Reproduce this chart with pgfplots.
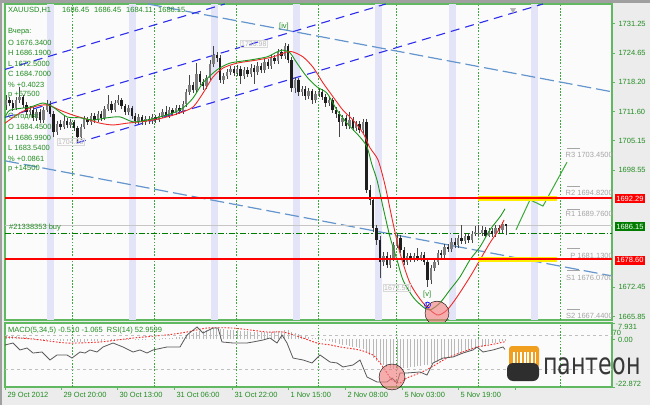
\documentclass[border=0pt]{standalone}
\usepackage{fontspec}
\setmainfont{Liberation Sans}
\newfontfamily\logofont{DejaVu Sans}
\usepackage{pgfplots}
\pgfplotsset{compat=1.18}
\usepackage{pgfplotstable}
\definecolor{frameg}{RGB}{96,184,96}
\definecolor{txtg}{RGB}{34,140,34}
\definecolor{dkgreen}{RGB}{0,125,0}
\definecolor{dayg}{RGB}{60,170,60}
\definecolor{band}{RGB}{228,228,248}
\definecolor{chanblue}{RGB}{45,45,235}
\definecolor{ltblue}{RGB}{100,150,205}
\definecolor{maGreen}{RGB}{30,150,30}
\definecolor{maRed}{RGB}{240,40,40}
\definecolor{fcGreen}{RGB}{60,170,60}
\definecolor{pivgray}{RGB}{165,165,165}
\definecolor{pagebg}{RGB}{236,236,236}
\definecolor{chartbg}{RGB}{251,251,251}
\definecolor{edgegray}{RGB}{160,160,160}
\definecolor{wickc}{RGB}{70,70,70}
\definecolor{bearc}{RGB}{30,30,30}
\definecolor{bullc}{RGB}{125,125,125}
\definecolor{pinkc}{RGB}{240,120,120}
\definecolor{logoorange}{RGB}{240,160,30}
\newcommand{\sm}{\fontsize{7.5}{9}\selectfont}
\newcommand{\smt}{\fontsize{7}{8.4}\selectfont}

\pgfplotstableread{
x o h l c
6 1713.1 1715.3 1711.9 1714.2
9.4 1714.2 1714.9 1712.8 1713.5
12.8 1713.5 1714.2 1711.7 1712.4
16.2 1712.4 1714.9 1711.9 1714.2
19.6 1714.2 1717.1 1713.5 1714.9
23 1714.9 1715.3 1712.4 1713.1
26.4 1713.1 1713.7 1710.8 1711.5
29.8 1711.5 1712.8 1710.8 1711.9
33.2 1711.9 1712.6 1709.5 1710.2
36.6 1710.2 1712.2 1709.5 1711.5
40 1711.5 1712.2 1709.0 1709.7
43.4 1709.7 1712.6 1709.0 1711.9
46.8 1711.9 1714.2 1711.5 1713.3
50.2 1713.3 1714.0 1710.4 1711.1
53.6 1711.1 1711.7 1705.9 1707.0
57 1707.0 1709.5 1706.4 1708.8
60.4 1708.8 1709.7 1707.5 1708.2
63.8 1708.2 1710.6 1707.7 1709.5
67.2 1709.5 1710.2 1707.9 1708.6
70.6 1708.6 1709.9 1707.9 1709.3
74 1709.3 1709.7 1707.3 1707.9
77.4 1707.9 1708.4 1704.8 1705.9
80.8 1705.9 1708.8 1705.3 1708.2
84.2 1708.2 1710.6 1707.7 1709.9
87.6 1709.9 1710.4 1708.6 1709.3
91 1709.3 1711.3 1708.6 1710.6
94.4 1710.6 1711.3 1709.0 1709.7
97.8 1709.7 1711.7 1709.3 1711.1
101.2 1711.1 1711.7 1709.5 1710.2
104.6 1710.2 1712.8 1709.7 1712.2
108 1712.2 1715.3 1711.7 1713.3
111.4 1713.3 1714.0 1711.3 1711.9
114.8 1711.9 1714.2 1711.5 1713.5
118.2 1713.5 1715.3 1713.1 1714.2
121.6 1714.2 1714.6 1712.2 1712.8
125 1712.8 1713.3 1710.8 1711.5
128.4 1711.5 1713.1 1710.8 1712.4
131.8 1712.4 1712.8 1709.9 1710.6
135.2 1710.6 1711.3 1708.8 1709.5
138.6 1709.5 1711.1 1708.8 1710.4
142 1710.4 1710.8 1708.6 1709.3
145.4 1709.3 1710.6 1708.6 1709.9
148.8 1709.9 1710.6 1708.8 1709.5
152.2 1709.5 1711.1 1708.8 1710.4
155.6 1710.4 1710.8 1709.0 1709.7
159 1709.7 1711.3 1709.3 1710.6
162.4 1710.6 1712.2 1710.2 1711.5
165.8 1711.5 1712.8 1710.4 1710.8
169.2 1710.8 1712.6 1710.2 1711.9
172.6 1711.9 1712.4 1710.6 1711.3
176 1711.3 1713.1 1710.8 1712.4
179.4 1712.4 1713.1 1711.1 1711.7
182.8 1711.7 1714.0 1711.1 1713.3
186.2 1713.3 1716.6 1712.6 1716.0
189.6 1716.0 1719.8 1715.3 1717.5
193 1717.5 1718.2 1715.7 1716.4
196.4 1716.4 1722.4 1715.7 1720.0
199.8 1720.0 1720.7 1717.5 1718.2
203.2 1718.2 1718.9 1716.4 1717.3
206.6 1717.3 1719.8 1716.6 1719.1
210 1719.1 1723.1 1718.6 1722.2
213.4 1722.2 1726.2 1721.5 1724.2
216.8 1724.2 1724.9 1722.7 1723.6
220.2 1723.6 1724.2 1718.0 1718.6
223.6 1718.6 1720.2 1717.8 1719.5
227 1719.5 1721.1 1718.9 1720.4
230.4 1720.4 1721.8 1719.8 1721.1
233.8 1721.1 1721.8 1719.5 1720.2
237.2 1720.2 1722.0 1719.5 1721.1
240.6 1721.1 1721.8 1717.8 1719.5
244 1719.5 1721.5 1718.9 1720.9
247.4 1720.9 1721.5 1719.3 1720.0
250.8 1720.0 1722.2 1719.3 1721.3
254.2 1721.3 1722.0 1717.8 1720.4
257.6 1720.4 1722.7 1719.8 1721.8
261 1721.8 1722.4 1720.2 1720.9
264.4 1720.9 1723.3 1720.2 1722.7
267.8 1722.7 1723.3 1721.1 1721.8
271.2 1721.8 1724.2 1721.1 1723.6
274.6 1723.6 1724.2 1722.2 1722.9
278 1722.9 1725.6 1722.2 1724.9
281.4 1724.9 1725.6 1723.3 1724.0
284.8 1724.0 1726.98 1723.3 1726.2
288.2 1726.2 1726.7 1722.4 1723.1
291.6 1723.1 1723.8 1716.0 1716.9
295 1716.9 1719.3 1715.7 1718.6
298.4 1718.6 1719.1 1715.1 1716.0
301.8 1716.0 1717.3 1715.1 1716.6
305.2 1716.6 1717.3 1714.2 1715.1
308.6 1715.1 1716.9 1714.4 1716.2
312 1716.2 1716.6 1713.3 1714.2
315.4 1714.2 1716.2 1713.5 1715.5
318.8 1715.5 1716.6 1714.9 1716.0
322.2 1716.0 1716.6 1714.2 1714.9
325.6 1714.9 1715.5 1712.6 1713.5
329 1713.5 1714.9 1712.8 1714.2
332.4 1714.2 1714.6 1711.3 1711.9
335.8 1711.9 1712.6 1710.2 1711.1
339.2 1711.1 1711.7 1705.9 1709.3
342.6 1709.3 1710.8 1708.4 1710.2
346 1710.2 1710.8 1707.7 1708.4
349.4 1708.4 1711.5 1707.7 1709.7
352.8 1709.7 1710.4 1707.3 1707.9
356.2 1707.9 1709.5 1707.3 1708.8
359.6 1708.8 1709.5 1706.8 1707.5
363 1707.5 1709.9 1706.8 1709.3
366.4 1709.3 1709.9 1693.4 1694.1
369.8 1694.1 1695.2 1690.7 1691.9
373.2 1691.9 1692.5 1684.7 1685.6
376.6 1685.6 1686.3 1681.8 1682.9
380 1682.9 1683.8 1674.4 1678.0
383.4 1678.0 1680.3 1677.1 1679.4
386.8 1679.4 1680.3 1676.7 1677.4
390.2 1677.4 1679.6 1676.7 1678.9
393.6 1678.9 1682.5 1678.2 1681.8
397 1681.8 1684.5 1681.1 1683.4
400.4 1683.4 1684.0 1680.0 1680.7
403.8 1680.7 1681.4 1677.4 1678.0
407.2 1678.0 1680.0 1677.4 1679.4
410.6 1679.4 1680.0 1678.0 1678.7
414 1678.7 1680.0 1678.0 1679.4
417.4 1679.4 1681.1 1678.2 1678.9
420.8 1678.9 1680.3 1678.2 1679.6
424.2 1679.6 1680.3 1677.4 1678.0
427.6 1678.0 1678.9 1672.5 1674.0
431 1674.0 1677.4 1673.1 1676.7
434.4 1676.7 1678.9 1676.0 1678.0
437.8 1678.0 1680.7 1677.4 1680.0
441.2 1680.0 1680.7 1678.9 1679.6
444.6 1679.6 1682.0 1678.9 1681.4
448 1681.4 1682.0 1680.3 1680.9
451.4 1680.9 1683.4 1680.3 1682.5
454.8 1682.5 1683.4 1681.1 1681.8
458.2 1681.8 1684.0 1681.1 1683.4
461.6 1683.4 1686.19 1682.0 1682.7
465 1682.7 1684.5 1682.0 1683.8
468.4 1683.8 1684.5 1682.3 1682.9
471.8 1682.9 1684.9 1682.3 1684.3
475.2 1684.3 1686.1 1683.8 1684.7
478.6 1684.45 1686.3 1683.8 1684.5
482 1684.5 1686.1 1683.8 1685.2
485.4 1685.2 1685.8 1683.6 1683.8
488.8 1683.8 1685.6 1683.54 1684.9
492.2 1684.9 1685.6 1683.6 1684.3
495.6 1684.3 1686.3 1683.6 1685.6
499 1685.6 1686.3 1684.5 1685.2
502.4 1685.2 1686.99 1684.5 1686.45
505.8 1686.45 1686.45 1684.11 1686.15
}\candles

\pgfplotstableread{
x v
6 1.5
9.4 1.7
12.8 1.8
16.2 1.6
19.6 1.4
23 1.2
26.4 1.0
29.8 0.8
33.2 0.6
36.6 0.4
40 0.3
43.4 0.2
46.8 0.3
50.2 0.2
53.6 -0.2
57 -0.4
60.4 -0.6
63.8 -0.7
67.2 -0.8
70.6 -0.9
74 -1.0
77.4 -1.3
80.8 -1.2
84.2 -1.0
87.6 -0.9
91 -0.8
94.4 -0.7
97.8 -0.6
101.2 -0.5
104.6 -0.3
108 0.0
111.4 0.1
114.8 0.2
118.2 0.4
121.6 0.3
125 0.2
128.4 0.1
131.8 0.0
135.2 -0.1
138.6 -0.2
142 -0.2
145.4 -0.1
148.8 0.0
152.2 0.1
155.6 0.2
159 0.3
162.4 0.5
165.8 0.6
169.2 0.8
172.6 0.9
176 1.0
179.4 1.1
182.8 1.3
186.2 1.8
189.6 2.5
193 3.0
196.4 3.6
199.8 3.9
203.2 4.1
206.6 4.4
210 4.9
213.4 5.4
216.8 5.6
220.2 5.2
223.6 5.0
227 4.8
230.4 4.6
233.8 4.5
237.2 4.4
240.6 4.1
244 4.0
247.4 3.9
250.8 3.8
254.2 3.7
257.6 3.7
261 3.6
264.4 3.7
267.8 3.7
271.2 3.8
274.6 3.9
278 4.1
281.4 4.2
284.8 4.4
288.2 4.5
291.6 3.8
295 3.3
298.4 2.8
301.8 2.3
305.2 1.8
308.6 1.4
312 0.9
315.4 0.5
318.8 0.1
322.2 -0.2
325.6 -0.5
329 -0.9
332.4 -1.3
335.8 -1.7
339.2 -2.1
342.6 -2.5
346 -2.8
349.4 -3.1
352.8 -3.4
356.2 -3.8
359.6 -4.1
363 -4.4
366.4 -6.0
369.8 -7.5
373.2 -9.0
376.6 -10.4
380 -11.6
383.4 -12.4
386.8 -13.2
390.2 -13.8
393.6 -14.1
397 -14.2
400.4 -14.1
403.8 -13.9
407.2 -13.6
410.6 -13.4
414 -13.2
417.4 -13.0
420.8 -12.7
424.2 -12.4
427.6 -12.2
431 -11.8
434.4 -11.3
437.8 -10.7
441.2 -10.1
444.6 -9.5
448 -8.9
451.4 -8.3
454.8 -7.7
458.2 -7.1
461.6 -6.6
465 -6.1
468.4 -5.6
471.8 -5.1
475.2 -4.6
478.6 -3.9
482 -3.5
485.4 -3.0
488.8 -2.4
492.2 -1.9
495.6 -1.5
499 -1.1
502.4 -0.8
505.8 -0.51
}\macd

\begin{document}
\begin{tikzpicture}
\useasboundingbox (0,0) rectangle (650pt,405pt);
\fill[pagebg] (0,0) rectangle (650pt,405pt);
\fill[edgegray] (0,402pt) rectangle (650pt,405pt);
\fill[edgegray] (0,0) rectangle (2pt,405pt);

% ================= MAIN PRICE PANEL =================
\begin{axis}[at={(5pt,85pt)}, anchor=south west, scale only axis,
  width=607pt, height=316pt,
  xmin=5, xmax=612, ymin=1665.07, ymax=1735.6,
  axis background/.style={fill=chartbg},
  axis line style={frameg, line width=1.3pt},
  xtick=\empty,
  ytick={1665.85,1672.45,1698.55,1705.15,1711.60,1718.20,1724.65,1731.25},
  yticklabels={1665.85,1672.45,1698.55,1705.15,1711.60,1718.20,1724.65,1731.25},
  ytick pos=right, yticklabel pos=right,
  tick align=outside, major tick length=3pt,
  tick style={frameg, line width=0.8pt},
  yticklabel style={font=\sm, text=txtg},
  clip=false]
 % session bands
 \pgfplotsinvokeforeach{50,132,214,296,378,452,534}{
   \addplot[band, line width=7pt, forget plot] coordinates {(#1,1665.07) (#1,1735.6)};}
 % day separators
 \pgfplotsinvokeforeach{72,154,236,318,396,478,560}{
   \addplot[dayg, line width=0.8pt, dash pattern=on 1.6pt off 1.6pt, forget plot] coordinates {(#1,1665.07) (#1,1735.6)};}
 % light blue descending lines
 \addplot[ltblue, line width=1.2pt, dash pattern=on 14pt off 5pt] coordinates {(5,1700.6) (612,1674.9)};
 \addplot[ltblue, line width=1.2pt, dash pattern=on 14pt off 5pt] coordinates {(148,1735.6) (612,1716.0)};
 % dark blue channel
 \addplot[chanblue, line width=1.1pt, dash pattern=on 9pt off 6pt] coordinates {(77,1704.6) (543,1735.6)};
 \addplot[chanblue, line width=1.1pt, dash pattern=on 9pt off 6pt] coordinates {(5,1710.3) (385.7,1735.6)};
 \addplot[chanblue, line width=1.1pt, dash pattern=on 9pt off 6pt] coordinates {(5,1721.0) (224.7,1735.6)};
 % bid line and order line
 \addplot[gray!45, line width=0.8pt] coordinates {(5,1686.15) (612,1686.15)};
 \addplot[dkgreen, line width=0.8pt, dash pattern=on 6pt off 2pt on 1.2pt off 2pt] coordinates {(5,1684.45) (612,1684.45)};
 % pivot marks
 \pgfplotsinvokeforeach{1703.45,1694.82,1689.76,1681.13,1676.07,1667.44}{
   \addplot[pivgray, line width=0.7pt, forget plot] coordinates {(567,#1) (580,#1)};}
 % candles: wicks
 \addplot[draw=none, mark=none, error bars/.cd, y dir=plus, y explicit, error mark=none,
   error bar style={draw=wickc, line width=0.6pt, solid}]
   table[x=x, y=l, y error plus expr=\thisrow{h}-\thisrow{l}] {\candles};
 % bear bodies
 \addplot[draw=none, mark=none, restrict expr to domain={\thisrow{c}-\thisrow{o}}{-1000:-0.0001},
   error bars/.cd, y dir=plus, y explicit, error mark=none,
   error bar style={draw=bearc, line width=2.3pt, solid}]
   table[x=x, y=c, y error plus expr=\thisrow{o}-\thisrow{c}] {\candles};
 % bull bodies
 \addplot[draw=none, mark=none, restrict expr to domain={\thisrow{c}-\thisrow{o}}{0:1000},
   error bars/.cd, y dir=plus, y explicit, error mark=none,
   error bar style={draw=bullc, line width=2.3pt, solid}]
   table[x=x, y=o, y error plus expr=\thisrow{c}-\thisrow{o}] {\candles};
 % moving averages
 \addplot[maRed, line width=0.9pt, smooth, tension=0.45] coordinates {
  (5,1709.0)(20,1711.3)(33,1712.6)(47,1713.1)(60,1711.9)(73,1710.8)(90,1709.7)(100,1709.0)
  (113,1708.6)(127,1709.0)(140,1709.3)(153,1709.7)(167,1710.4)(180,1711.3)(193,1712.6)
  (203,1715.7)(213,1719.3)(223,1721.3)(237,1722.4)(257,1723.1)(273,1723.8)(287,1724.9)
  (293,1724.9)(303,1723.8)(313,1721.5)(323,1718.0)(333,1714.9)(343,1711.9)(353,1709.7)
  (363,1706.8)(370,1703.5)(378,1700.8)(385,1695.2)(393,1686.7)(400,1680.0)(410,1673.3)
  (423,1668.9)(437,1666.2)(447,1667.3)(457,1670.2)(470,1674.7)(480,1678.5)(490,1682.3)
  (500,1685.6)(504,1687.4)};
 \addplot[maGreen, line width=0.9pt, smooth, tension=0.45] coordinates {
  (5,1710.2)(10,1711.9)(30,1712.6)(43,1713.5)(53,1712.6)(67,1710.4)(80,1710.2)(93,1709.7)
  (107,1710.2)(120,1710.4)(133,1709.3)(147,1709.7)(160,1710.4)(173,1711.3)(183,1712.4)
  (193,1714.6)(203,1718.0)(217,1720.9)(230,1722.4)(250,1723.1)(267,1723.8)(277,1724.9)
  (283,1725.3)(290,1724.7)(297,1722.4)(307,1719.3)(317,1717.1)(327,1715.7)(337,1711.9)
  (347,1709.0)(360,1705.9)(367,1703.7)(372,1699.7)(377,1696.3)(383,1690.3)(390,1683.6)
  (397,1678.5)(403,1674.0)(413,1670.2)(423,1668.0)(430,1667.3)(440,1668.9)(450,1671.8)
  (460,1674.7)(470,1678.5)(480,1681.4)(490,1685.2)(500,1688.1)(505,1689.9)};
 % forecast path
 \addplot[fcGreen, line width=1pt] coordinates {(516,1685.2) (530,1691.9) (543,1690.5) (567,1700.3)};
 % key levels
 \addplot[yellow!95!orange, line width=5pt] coordinates {(478,1692.29) (557,1692.29)};
 \addplot[yellow!95!orange, line width=5pt] coordinates {(478,1678.60) (557,1678.60)};
 \addplot[red, line width=2pt] coordinates {(5,1692.29) (612,1692.29)};
 \addplot[red, line width=2pt] coordinates {(5,1678.60) (612,1678.60)};
 % marker at top and highlight circle
 \addplot[only marks, mark=triangle*, mark size=3pt, mark options={rotate=180, fill=gray!60, draw=gray!60}] coordinates {(513,1734.3)};
 \addplot[only marks, mark=*, mark size=12pt, mark options={draw=none, fill=pinkc, fill opacity=0.6}] coordinates {(437,1666.6)};
\end{axis}

% ================= MACD / RSI PANEL =================
\begin{axis}[at={(5pt,18pt)}, anchor=south west, scale only axis,
  width=607pt, height=64pt,
  xmin=5, xmax=612, ymin=-22.872, ymax=7.931,
  axis background/.style={fill=chartbg},
  axis line style={frameg, line width=1.3pt},
  xtick={5,61,117,174,232,288,345,402,458,515},
  xticklabels={29 Oct 2012,29 Oct 20:00,30 Oct 13:00,31 Oct 06:00,31 Oct 22:00,1 Nov 15:00,2 Nov 08:00,5 Nov 03:00,5 Nov 19:00,{}},
  xticklabel style={font=\sm, text=txtg, anchor=north west, xshift=-1pt, yshift=1pt},
  ytick={-22.872,0,7.931}, yticklabels={,,},
  xtick pos=bottom, ytick pos=right,
  tick align=outside, major tick length=3pt,
  tick style={frameg, line width=0.8pt},
  clip=false]
 \pgfplotsinvokeforeach{72,154,236,318,396,478,560}{
   \addplot[dayg, line width=0.8pt, dash pattern=on 1.6pt off 1.6pt, forget plot] coordinates {(#1,-22.872) (#1,7.931)};}
 \addplot[ycomb, gray!55, line width=0.7pt] table[x=x, y=v] {\macd};
 \addplot[red!85, line width=0.9pt, dash pattern=on 1.6pt off 1.6pt, smooth, tension=0.4] coordinates {
  (5,1.2)(33,0.2)(67,-1.7)(100,-1.2)(133,0.7)(167,2.2)(187,3.6)(207,5.5)(233,5.5)(267,3.6)
  (283,3.6)(300,1.2)(317,-1.7)(330,-2.6)(340,-3.6)(360,-5.1)(373,-7.5)(380,-11.3)(387,-16.1)
  (392,-19.5)(400,-20.9)(407,-18.5)(420,-16.1)(430,-13.7)(447,-8.9)(460,-6.5)(477,-3.6)
  (490,-2.6)(505,-1.07)};
\end{axis}
\begin{axis}[at={(5pt,18pt)}, anchor=south west, scale only axis,
  width=607pt, height=64pt,
  xmin=5, xmax=612, ymin=8.82, ymax=84.12, axis lines=none, clip=false]
 \addplot[gray!50, line width=0.7pt, dash pattern=on 3pt off 3pt] coordinates {(5,70) (612,70)};
 \addplot[gray!50, line width=0.7pt, dash pattern=on 3pt off 3pt] coordinates {(5,30) (612,30)};
 \addplot[black!65, line width=0.8pt] coordinates {
  (5,58.2)(13,60.6)(20,52.4)(27,54.7)(33,48.8)(42,50.0)(50,40.6)(57,46.5)(67,46.5)(72,42.9)
  (80,50.0)(85,48.8)(90,52.4)(97,50.0)(103,55.9)(113,60.6)(123,55.9)(133,50.0)(140,52.4)
  (147,48.8)(153,52.4)(167,55.9)(180,55.9)(187,70.0)(197,79.4)(203,72.4)(213,78.2)(218,78.2)
  (222,61.8)(233,60.6)(247,60.6)(253,61.8)(263,64.1)(270,66.5)(277,60.6)(282,70.0)(287,60.6)
  (293,42.9)(303,40.6)(312,37.1)(320,46.5)(330,38.2)(337,37.1)(343,32.4)(353,34.7)(360,40.6)
  (367,20.6)(377,14.7)(387,14.7)(392,19.4)(397,13.5)(400,25.3)(407,25.3)(420,26.5)(427,22.9)
  (433,37.1)(443,42.9)(453,44.1)(463,48.8)(473,52.4)(477,55.9)(483,50.0)(493,52.4)(503,55.9)
  (505,53.0)};
 \addplot[only marks, mark=*, mark size=13pt, mark options={draw=none, fill=pinkc, fill opacity=0.6}] coordinates {(392,20.6)};
\end{axis}

% ================= TEXTS (pixel coordinates) =================
\begin{scope}[x=1pt, y=-1pt, yshift=405pt]
 \begin{scope}[every node/.style={font=\sm, text=txtg, anchor=west, inner sep=0pt}]
  \node at (8,10) {XAUUSD,H1};
  \node at (62,10) {1686.45};
  \node at (94,10) {1686.45};
  \node at (126,10) {1684.11};
  \node at (158,10) {1686.15};
  \node at (8,32) {Вчера:};
  \node at (8,42.5) {O 1676.3400};
  \node at (8,53) {H 1686.1900};
  \node at (8,63.5) {L 1672.5000};
  \node at (8,74) {C 1684.7000};
  \node at (8,84.5) {\% +0.4023};
  \node at (8,95) {p +67500};
  \node at (8,116.5) {Сегодня:};
  \node at (8,127) {O 1684.4500};
  \node at (8,137.5) {H 1686.9900};
  \node at (8,148) {L 1683.5400};
  \node at (8,158.5) {\% +0.0861};
  \node at (8,169) {p +14500};
  \node at (9,228) {\#21338353 buy};
  \node at (8,331) {MACD(5,34,5) -0.510 -1.065\ \ RSI(14) 52.9599};
  \node at (279,27) {[iv]};
  \node at (423,295) {[v]};
  \node at (618,327) {7.931};
  \node at (612.5,333) {70};
  \node at (618,340) {0.00};
  \node at (615.5,384) {-22.872};
 \end{scope}
 \node[font=\smt, text=blue, draw=blue, circle, inner sep=0.3pt, line width=0.5pt] at (427.5,305) {c};
 % boxed price labels
 \begin{scope}[every node/.style={font=\smt, text=gray!55, draw=gray!30, anchor=west, inner sep=1pt}]
  \node at (240,44) {1726.98};
  \node at (57,142) {1704.83};
  \node at (383,288) {1672.50};
 \end{scope}
 % pivot texts
 \begin{scope}[every node/.style={font=\sm, text=pivgray, anchor=east, inner sep=0pt}]
  \node at (613,155) {R3 1703.4500};
  \node at (613,193) {R2 1694.8200};
  \node at (613,214) {R1 1689.7600};
  \node at (613,256) {P 1681.1300};
  \node at (613,278) {S1 1676.0700};
  \node at (613,316) {S2 1667.4400};
 \end{scope}
 % right-hand price boxes
 \node[font=\sm, text=white, fill=red, anchor=west, inner sep=1.2pt, minimum height=9pt] at (615,198.5) {1692.29};
 \node[font=\sm, text=white, fill=dkgreen, anchor=west, inner sep=1.2pt, minimum height=9pt] at (615,226.5) {1686.15};
 \node[font=\sm, text=white, fill=red, anchor=west, inner sep=1.2pt, minimum height=9pt] at (615,260) {1678.60};
 % logo
 \fill[logoorange, rounded corners=3pt] (509,346) rectangle (539,368);
 \foreach \i in {0,...,6} {\fill[white] ({513+\i*3.6},352) rectangle ({514.7+\i*3.6},365);}
 \fill[black!82, rounded corners=6pt] (507,363) rectangle (539,381);
 \node[anchor=base west, inner sep=0pt, text=black!78] at (543,374)
   {\scalebox{0.74}[1]{\logofont\fontsize{30}{30}\selectfont пантеон}};
\end{scope}
\end{tikzpicture}
\end{document}
